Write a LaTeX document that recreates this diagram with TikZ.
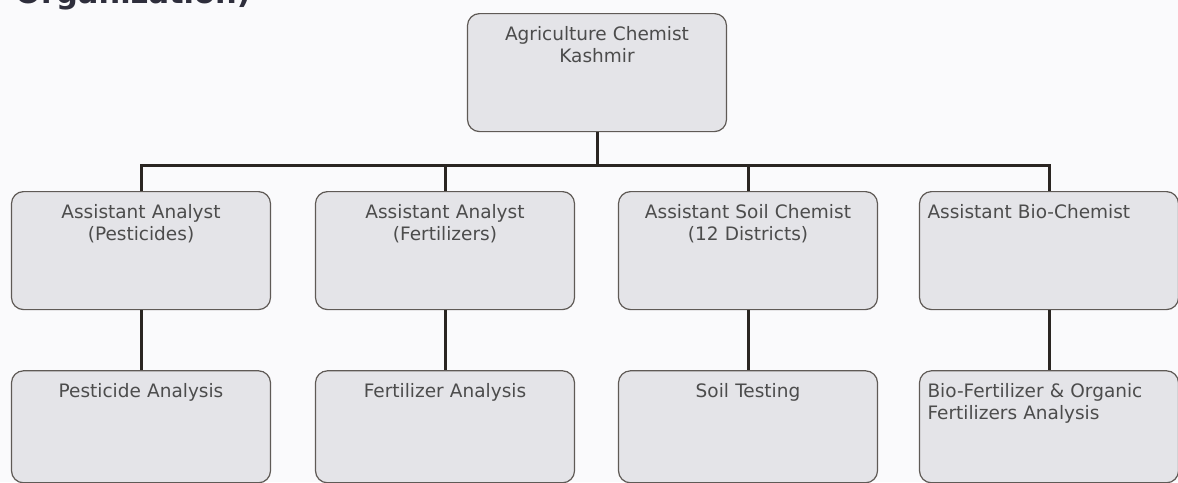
\documentclass[tikz,border=0pt]{standalone}
\usepackage{fontspec}
\setmainfont{DejaVu Sans}
\usetikzlibrary{positioning}
\definecolor{boxfill}{HTML}{E4E4E8}
\definecolor{boxline}{HTML}{5F5A56}
\definecolor{wirecol}{HTML}{2A2522}
\definecolor{ink}{HTML}{4C4C4C}
\definecolor{paper}{HTML}{FAFAFC}
\definecolor{head}{HTML}{2E2E3C}
\begin{document}
\begin{tikzpicture}[x=1pt,y=-1pt,
	post/.style={draw=boxline,line width=1.2pt,fill=boxfill,rounded corners=12pt,anchor=north,
		inner xsep=6pt,inner ysep=0pt,text width=247pt,align=center,text=ink,
		text height=27pt,text depth=91pt,font=\fontsize{18.5}{22}\selectfont},
	postleft/.style={post,align=left,inner xsep=8pt,text width=243pt},
	task/.style={text depth=85pt},
	wire/.style={draw=wirecol,line width=3pt}]
					\useasboundingbox (0,0) rectangle (1178,482);
					\fill[paper] (0,0) rectangle (1178,482);
					\node[anchor=base west,inner sep=0pt,text=head,font=\fontsize{30.5}{36}\bfseries] (title) at (15,3) {Organization)};
					\node[post] (chief) at (597,13) {Agriculture Chemist\\Kashmir};
					\coordinate (bus) at (597,165);
					\node[post] (pest) at (141,191) {Assistant Analyst\\(Pesticides)};
					\node[post] (fert) at (445,191) {Assistant Analyst\\(Fertilizers)};
					\node[post] (soil) at (748,191) {Assistant Soil Chemist\\(12 Districts)};
					\node[postleft] (bio) at (1049,191) {Assistant Bio-Chemist};
					\node[post,task,below=60pt of pest] (pestlab) {Pesticide Analysis};
					\node[post,task,below=60pt of fert] (fertlab) {Fertilizer Analysis};
					\node[post,task,below=60pt of soil] (soillab) {Soil Testing};
					\node[postleft,task,below=60pt of bio] (biolab) {Bio-Fertilizer \& Organic\\Fertilizers Analysis};
					\draw[wire] (chief) -- (bus);
					\foreach \n/\m in {pest/pestlab,fert/fertlab,soil/soillab,bio/biolab}
						\draw[wire] (\n.north) |- (bus) (\n) -- (\m);
				\end{tikzpicture}
\end{document}
